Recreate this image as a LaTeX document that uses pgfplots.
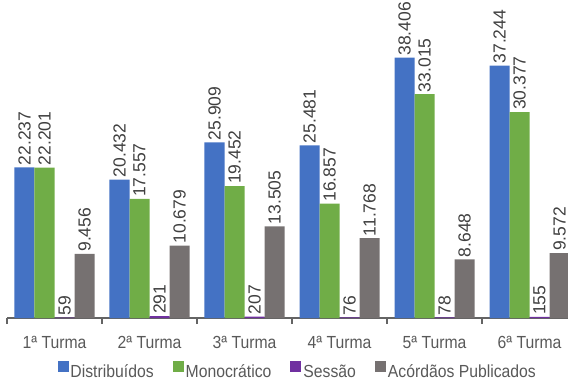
\documentclass[border=0pt]{standalone}
\usepackage{pgfplots}
\pgfplotsset{compat=1.18}
\usepackage{fontspec}
\setmainfont{Liberation Sans}[FakeStretch=0.9]
\newfontfamily\numfont{Liberation Sans}
\definecolor{cblue}{RGB}{68,114,196}
\definecolor{cgreen}{RGB}{112,173,71}
\definecolor{cpurple}{RGB}{112,48,160}
\definecolor{cgrey}{RGB}{118,113,113}
\definecolor{ctext}{RGB}{89,89,89}
\definecolor{clab}{RGB}{64,64,64}
\definecolor{caxis}{RGB}{100,100,100}
\pgfplotsset{sqlegend/.style={legend image code/.code={\fill[##1] (0bp,0.5bp) rectangle (11bp,11.5bp);}}}
\begin{document}
\begin{tikzpicture}
\useasboundingbox (0,0) rectangle (568bp,380bp);
\begin{axis}[
  at={(7bp,62bp)}, anchor=south west, scale only axis,
  width=570bp, height=318bp,
  ybar=0pt, bar width=20bp,
  xmin=-0.5, xmax=5.5, ymin=0, ymax=46917,
  clip=false,
  axis x line*=bottom, axis y line=none,
  xtick={-0.5,0.5,1.5,2.5,3.5,4.5,5.5},
  x tick label as interval,
  xticklabels={1ª Turma,2ª Turma,3ª Turma,4ª Turma,5ª Turma,6ª Turma},
  xticklabel style={font=\fontsize{17.5bp}{20bp}\selectfont, text=ctext, yshift=-9bp},
  x axis line style={draw=caxis, line width=1.2bp},
  xtick style={draw=caxis, line width=1.2bp},
  tick align=outside, major tick length=6bp,
  ytick=\empty,
  nodes near coords,
  every node near coord/.append style={rotate=90, anchor=west,
     font=\numfont\fontsize{17.5bp}{20bp}\selectfont, text=clab, inner sep=2bp},
  /pgf/number format/.cd, fixed, precision=0, 1000 sep={.}, assume math mode=true,
  /pgfplots/.cd,
  legend columns=4,
  legend style={at={(0.510,-0.1667)}, anchor=center, draw=none, fill=none,
     font=\fontsize{17.5bp}{20bp}\selectfont, text=ctext,
     /tikz/every even column/.append style={column sep=17bp}},
]
\addplot[fill=cblue, draw=none, sqlegend] coordinates {(0,22237) (1,20432) (2,25909) (3,25481) (4,38406) (5,37244)};
\addplot[fill=cgreen, draw=none, sqlegend] coordinates {(0,22201) (1,17557) (2,19452) (3,16857) (4,33015) (5,30377)};
\addplot[fill=cpurple, draw=none, sqlegend] coordinates {(0,59) (1,291) (2,207) (3,76) (4,78) (5,155)};
\addplot[fill=cgrey, draw=none, sqlegend] coordinates {(0,9456) (1,10679) (2,13505) (3,11768) (4,8648) (5,9572)};
\legend{Distribuídos,Monocrático,Sessão,Acórdãos Publicados}
\end{axis}
\end{tikzpicture}
\end{document}
